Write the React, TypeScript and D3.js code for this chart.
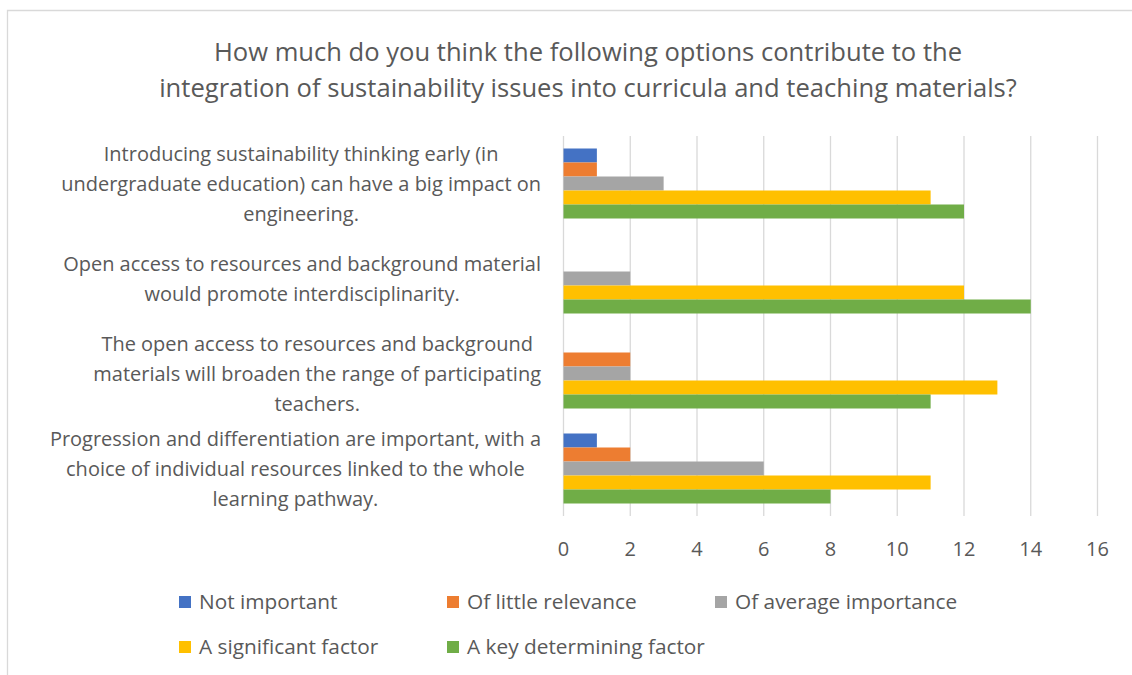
import React from "react";
import * as d3 from "d3";

const categories: string[][] = [
  ["Introducing sustainability thinking early (in", "undergraduate education) can have a big impact on", "engineering."],
  ["Open access to resources and background material", "would promote interdisciplinarity."],
  ["The open access to resources and background", "materials will broaden the range of participating", "teachers."],
  ["Progression and differentiation are important, with a", "choice of individual resources linked to the whole", "learning pathway."],
];

const seriesNames = ["Not important", "Of little relevance", "Of average importance", "A significant factor", "A key determining factor"];
const seriesColors = ["#4472C4", "#ED7D31", "#A5A5A5", "#FFC000", "#70AD47"];

const notImportant = [1, 0, 0, 1];
const littleRelevance = [1, 0, 2, 2];
const averageImportance = [3, 2, 2, 6];
const significantFactor = [11, 12, 13, 11];
const keyFactor = [12, 14, 11, 8];
const seriesValues = [notImportant, littleRelevance, averageImportance, significantFactor, keyFactor];

const xTicks = [0, 2, 4, 6, 8, 10, 12, 14, 16];
const titleLines = [
  "How much do you think the following options contribute to the",
  "integration of sustainability issues into curricula and teaching materials?",
];

const FAMILY = "'Open Sans'";
const FONT = "'Open Sans', sans-serif";
const TEXT = "#595959";

let ctx: CanvasRenderingContext2D | null = null;
function measure(text: string, size: number): number {
  if (!ctx) ctx = document.createElement("canvas").getContext("2d");
  if (!ctx) return text.length * size * 0.5;
  ctx.font = `${size}px ${FAMILY}`;
  return ctx.measureText(text).width;
}
function fitSize(text: string, target: number): number {
  const w = measure(text, 100);
  return (100 * target) / w;
}

export default function App() {
  const W = 1132, H = 675;
  const x = d3.scaleLinear().domain([0, 16]).range([563.5, 1097.5]);
  const yCat = d3.scaleBand<number>().domain(d3.range(categories.length)).range([136, 516]).paddingInner(0).paddingOuter(0);
  const ySer = d3.scaleBand<number>().domain(d3.range(seriesNames.length)).range([0, yCat.bandwidth()]).paddingInner(0).paddingOuter(0.893);

  const titleSize = fitSize(titleLines[1], 858);
  const labelSize = fitSize(categories[0][1], 480);
  const legendSize = fitSize(seriesNames[4], 238);
  const tickSize = labelSize;
  const labelRight = 541;
  const lineH = 30;

  const legendTextX = [199, 467, 735];
  const legendRows = [602, 647];

  return (
    <svg width={W} height={H} style={{ position: "absolute", left: 0, top: 0 }} fontFamily={FONT}>
      <rect x={0} y={0} width={W} height={H} fill="#fff" />
      <path d={`M7.5,${H} V10.5 H${W}`} fill="none" stroke="#d9d9d9" strokeWidth={1.3} />
      {titleLines.map((t, i) => (
        <text key={i} x={588} y={61 + i * 36} textAnchor="middle" fontSize={titleSize} fill={TEXT}>{t}</text>
      ))}
      {xTicks.map((t) => (
        <line key={t} x1={x(t)} x2={x(t)} y1={136} y2={516} stroke="#d9d9d9" strokeWidth={1.3} />
      ))}
      {categories.map((lines, ci) => {
        const bw = Math.max(...lines.map((l) => measure(l, labelSize)));
        const cx = labelRight - bw / 2;
        const cy = (yCat(ci) as number) + yCat.bandwidth() / 2;
        const top = cy - ((lines.length - 1) * lineH) / 2;
        return (
          <g key={ci}>
            {lines.map((l, li) => (
              <text key={li} x={cx} y={top + li * lineH + labelSize * 0.36} textAnchor="middle" fontSize={labelSize} fill={TEXT}>{l}</text>
            ))}
            {seriesValues.map((vals, si) => (
              vals[ci] > 0 ? (
                <rect key={si} x={x(0)} y={(yCat(ci) as number) + (ySer(si) as number)} width={x(vals[ci]) - x(0)} height={ySer.bandwidth()} fill={seriesColors[si]} />
              ) : null
            ))}
          </g>
        );
      })}
      {xTicks.map((t) => (
        <text key={t} x={x(t)} y={549 + tickSize * 0.36} textAnchor="middle" fontSize={tickSize} fill={TEXT}>{t}</text>
      ))}
      {seriesNames.map((n, i) => {
        const col = i % 3, row = Math.floor(i / 3);
        const tx = legendTextX[col], ly = legendRows[row];
        return (
          <g key={n}>
            <rect x={tx - 20} y={ly - 6} width={12} height={12} fill={seriesColors[i]} />
            <text x={tx} y={ly + legendSize * 0.36} fontSize={legendSize} fill={TEXT}>{n}</text>
          </g>
        );
      })}
    </svg>
  );
}
